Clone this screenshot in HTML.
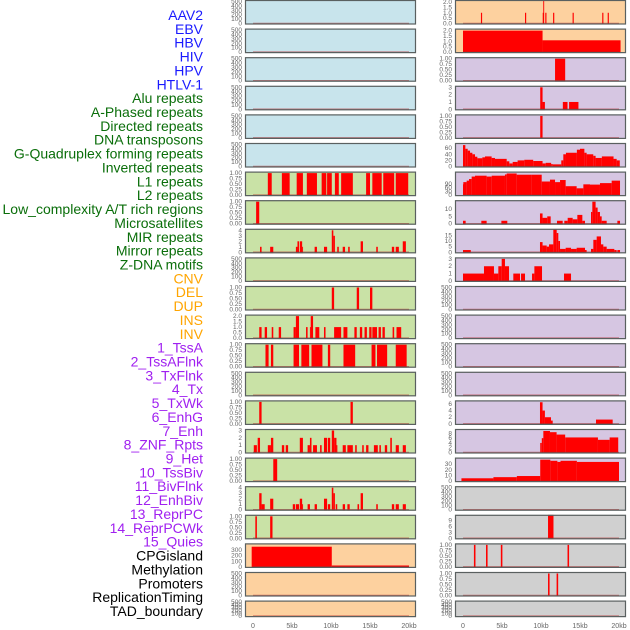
<!DOCTYPE html>
<html><head><meta charset="utf-8"><style>
html,body{margin:0;padding:0;background:#fff;}
svg{display:block;font-family:"Liberation Sans",sans-serif;}
</style></head><body>
<svg id="chart" width="630" height="630" viewBox="0 0 630 630"></svg>
<script>
// ---- data ----
const trackLabels = ["AAV2","EBV","HBV","HIV","HPV","HTLV-1","Alu repeats","A-Phased repeats","Directed repeats","DNA transposons","G-Quadruplex forming repeats","Inverted repeats","L1 repeats","L2 repeats","Low_complexity A/T rich regions","Microsatellites","MIR repeats","Mirror repeats","Z-DNA motifs","CNV","DEL","DUP","INS","INV","1_TssA","2_TssAFlnk","3_TxFlnk","4_Tx","5_TxWk","6_EnhG","7_Enh","8_ZNF_Rpts","9_Het","10_TssBiv","11_BivFlnk","12_EnhBiv","13_ReprPC","14_ReprPCWk","15_Quies","CPGisland","Methylation","Promoters","ReplicationTiming","TAD_boundary"];
const labelGroups = [6,13,5,15,5];
const groupColors = ["#1a1aff","#0a6e0a","#ffa500","#a020f0","#000000"];
const xTicks = [0,5,10,15,20];
const xTickLabels = ["0","5kb","10kb","15kb","20kb"];
// segments: [startKb, endKb, value]
const leftSegs = [
 [],[],[],[],[],[],
 [[1.9,2.4,1],[3.7,4.7,1],[5.6,6.4,1],[6.9,8.2,1],[8.8,9.4,1],[9.5,10.1,1],[10.5,11.0,1],[11.3,12.8,1],[14.5,15.0,1],[15.3,16.5,1],[16.7,18.1,1],[18.3,19.9,1]],
 [[0.4,0.8,1]],
 [[0.9,1.1,1],[2.2,2.6,1],[5.5,5.7,1],[5.7,5.9,2],[6.0,6.3,2],[6.3,6.4,1],[7.9,8.2,1],[9.1,9.5,1],[10.1,10.3,4],[10.3,10.5,3],[10.8,11.0,1],[11.5,11.8,1],[12.2,12.4,1],[13.8,14.1,2],[15.8,16.0,1],[17.8,18.1,1],[18.3,18.7,1],[19.2,19.6,2]],
 [],
 [[10.1,10.4,1],[13.3,13.6,1],[15.0,15.3,1]],
 [[0.8,1.1,1],[1.5,1.8,1],[2.4,2.6,1],[3.3,3.6,1],[5.2,5.5,1],[5.5,5.9,2],[6.8,7.0,1],[7.3,7.4,1],[7.4,7.7,2],[8.0,8.5,1],[9.1,9.3,1],[10.4,11.3,1],[11.6,12.1,1],[13.0,13.3,1],[13.7,14.0,1],[14.3,14.6,1],[14.9,15.2,1],[15.3,15.9,1],[16.1,16.4,1],[16.6,16.9,1],[17.9,18.1,1],[18.4,19.0,1]],
 [[1.6,2.0,1],[2.3,2.6,1],[5.2,5.9,1],[6.2,7.2,1],[7.5,8.9,1],[9.6,9.9,1],[11.6,13.1,1],[15.2,15.7,1],[15.9,17.2,1],[18.3,19.7,1]],
 [],
 [[0.8,1.1,1],[12.5,12.8,1]],
 [[0.1,0.5,1],[0.6,0.9,2],[1.9,2.3,1],[2.3,2.6,2],[3.7,4.0,1],[4.2,4.5,1],[6.0,6.4,2],[7.0,7.3,1],[7.3,7.5,2],[7.7,8.2,1],[8.6,8.8,1],[9.1,9.5,2],[9.6,9.9,2],[10.1,10.4,3],[10.4,10.7,2],[10.7,10.8,1],[11.5,11.9,1],[12.1,12.8,1],[13.1,13.3,1],[14.0,14.2,1],[14.5,14.8,1],[15.5,16.0,1],[16.2,16.4,1],[16.9,17.2,1],[17.6,17.8,2],[18.3,18.7,1],[19.2,19.6,1]],
 [[2.6,3.1,1]],
 [[0.8,1.1,3],[1.1,1.5,1],[2.2,2.6,2],[5.1,5.4,1],[5.5,5.9,1],[6.0,6.3,2],[6.3,6.4,1],[7.0,7.3,1],[7.9,8.2,1],[9.1,9.5,2],[9.6,9.9,1],[10.1,10.3,4],[10.3,10.5,3],[10.6,10.8,1],[11.5,11.8,1],[12.1,12.4,1],[13.4,13.6,1],[13.8,14.1,3],[15.8,16.0,1],[17.8,18.1,1],[18.3,18.7,1],[19.2,19.6,1]],
 [[0.3,0.5,1],[2.2,2.5,1]],
 [[-0.17,10.1,358],[10.1,20.0,25]],
 [],[]
];
const r5Breaks = [0,0.3,0.6,0.9,1.2,1.54,1.84,2.48,2.82,3.67,4.1,5.6,5.94,6.37,7.0,7.86,9.0,10.2,10.6,11.3,11.5,12.6,12.86,13.2,14.6,15.0,15.56,15.85,16.7,17.0,17.8,19.3,19.7,20.1];
const r5Vals = [70,58,52,45,40,32,27,30,33,28,25,17,10,15,20,22,18,10,12,8,7,20,40,45,55,58,45,40,35,28,33,25,20];
const r6Breaks = [0,0.04,0.47,0.77,1.11,1.54,3.03,3.68,5.38,5.6,6.88,8.8,10.09,11.15,11.8,12.44,13.16,14.57,15.43,16.28,17.56,19.06,20.13];
const r6Vals = [87,105,117,130,150,157,150,157,167,175,165,165,110,125,105,122,72,55,87,85,97,117];
function profileSegs(b, v){ const s=[]; for(let i=0;i<v.length;i++) s.push([b[i],b[i+1],v[i]]); return s; }
const rightSegs = [
 [[2.3,2.45,1],[7.95,8.1,1],[10.22,10.37,1],[10.29,10.35,2.4],[10.55,10.7,1],[11.55,11.7,1],[14.05,14.2,1],[17.85,18.0,1],[18.55,18.7,1]],
 [[0,10.2,2.0],[10.2,20.2,1.1]],
 [[11.8,13.1,1]],
 [[9.9,10.2,3],[10.2,10.5,1],[12.8,13.4,1],[13.6,14.8,1]],
 [[9.9,10.2,1]],
 profileSegs(r5Breaks, r5Vals),
 profileSegs(r6Breaks, r6Vals),
 [[0,0.34,2],[2.35,3.03,2],[4.92,5.68,2],[9.87,10.2,7],[10.2,10.8,4],[10.8,11.24,5],[12.05,12.78,2],[12.99,13.42,2],[13.42,14.06,4],[14.06,14.66,3],[14.66,15.3,6],[15.3,15.64,2],[16.41,16.58,8],[16.58,17.0,15],[17.0,17.26,11],[17.26,17.56,8],[17.56,17.78,5],[17.78,18.42,2],[19.79,20.13,2]],
 [[0,1.0,2],[9.87,10.2,9],[10.2,10.73,6],[10.73,11.03,5],[11.03,11.58,7],[11.58,12.01,20],[12.01,12.22,17],[12.22,12.44,10],[12.44,13.16,3],[13.16,13.85,4],[13.85,14.57,3],[14.57,15.64,4],[15.64,15.85,2],[16.41,16.71,3],[16.71,17.14,11],[17.14,17.69,14],[17.69,17.99,7],[17.99,18.42,5],[18.42,19.4,3],[19.4,19.7,2],[19.79,20.13,2]],
 [[0,2.69,1],[2.69,3.97,2],[3.97,4.53,1],[4.53,4.96,2],[4.96,5.38,3],[5.38,5.9,2],[6.45,7.31,1],[7.44,7.95,1],[8.85,9.15,1],[9.15,10.13,2],[12.95,13.85,1]],
 [],[],[],[],
 [[9.87,10.2,6.5],[10.2,10.5,4],[10.5,11.28,2],[11.28,11.5,1],[17.05,19.19,1.3]],
 [[9.9,10.1,4],[10.1,10.3,6],[10.3,11.15,9],[11.15,12.0,8.5],[12.0,13.1,7.5],[13.1,17.3,6.3],[17.3,18.8,5.3],[18.8,19.9,6.3]],
 [[-0.2,3.9,5],[3.9,6.9,7],[6.9,9.9,9],[9.9,11.2,38],[11.2,12.1,36],[12.1,12.5,34],[12.5,14.6,36],[14.6,20.0,34]],
 [],
 [[10.9,11.6,12]],
 [[1.4,1.6,1],[2.95,3.15,1],[4.85,5.05,1],[13.4,13.6,1]],
 [[10.9,11.1,1],[12.0,12.2,1]],
 []
];
const EMPTY=[0,100,200,300,400,500], BIN=[0,0.25,0.5,0.75,1], HALF=[0,0.5,1,1.5,2];
const leftTicks = [EMPTY,EMPTY,EMPTY,EMPTY,EMPTY,EMPTY,BIN,BIN,[0,1,2,3,4],EMPTY,BIN,HALF,BIN,EMPTY,BIN,[0,1,2,3],BIN,[0,1,2,3,4],BIN,[0,100,200,300],EMPTY,EMPTY];
const leftMax = [500,500,500,500,500,500,1,1,4,500,1,2,1,500,1,3,1,4,1,390,500,500];
const rightTicks = [HALF,HALF,BIN,[0,1,2,3],BIN,[0,20,40,60],[0,30,60,90],[0,5,10],[0,5,10,15],[0,1,2,3],EMPTY,EMPTY,EMPTY,EMPTY,[0,2,4,6],[0,2,4,6,8],[0,10,20,30],EMPTY,[0,3,6,9],BIN,BIN,EMPTY];
const rightMax = [2.05,2.05,1,3,1,72,178,15,19.4,3,500,500,500,500,6.6,9.2,39,500,11.2,1,1,500];
const leftBg = ["b","b","b","b","b","b","g","g","g","g","g","g","g","g","g","g","g","g","g","o","o","o"];
const rightBg = ["o","o","p","p","p","p","p","p","p","p","p","p","p","p","p","p","p","gr","gr","gr","gr","gr"];
const bgColors = {b:"#c8e4ec",g:"#c9e2a6",o:"#fdd19f",p:"#d6c6e2",gr:"#d0d0d0"};

// ---- drawing ----
const NS="http://www.w3.org/2000/svg";
const svg=document.getElementById('chart');
function mk(tag, attrs, parent){ const e=document.createElementNS(NS,tag); for(const k in attrs) e.setAttribute(k,attrs[k]); (parent||svg).appendChild(e); return e; }
const ROWH=28.6;
function xScale(col, kb){ return (col===0?253:463) + kb*7.8; }
function fmt(ticks, v){ const mx=Math.max(...ticks); if(mx<=1) return v.toFixed(2); if(mx<=2 && ticks.includes(0.5)) return v.toFixed(1); return String(v); }

// labels
let li=0;
labelGroups.forEach((n,g)=>{ for(let k=0;k<n;k++){ const t=mk('text',{x:203,y:15+li*13.86,'text-anchor':'end','dominant-baseline':'central','font-size':'14',fill:groupColors[g]});
 
 
 t.textContent=trackLabels[li]; li++; } });

function drawPanel(col, i, segs, ticks, vmax, bg){
  const x0 = col===0?245:455, w=171;
  const top = i*ROWH, h = (i===21)?16.5:24.5;
  const g=mk('g',{});
  
  
  const cid='clip'+col+'_'+i;
  const cp=mk('clipPath',{id:cid},g); mk('rect',{x:x0,y:top,width:w,height:h},cp);
  const bgR=mk('rect',{x:x0,y:top,width:w,height:h,fill:bgColors[bg]},g);
  
  
  const yS = v => top + h - 1 - (v/vmax)*(h-2.5);
  const bars=mk('g',{'clip-path':'url(#'+cid+')'},g);
  segs.forEach(s=>{
    const xa=xScale(col,s[0]), xb=xScale(col,s[1]);
    const r=mk('rect',{x:xa,y:yS(s[2]),width:Math.max(0.9,xb-xa),height:Math.max(0,top+h-yS(s[2])),fill:'#ff0000'},bars);
    
    
  });
  const bl=mk('line',{x1:xScale(col,0),x2:xScale(col,20),y1:top+h-1,y2:top+h-1,stroke:'#b02020','stroke-width':1.5,'stroke-opacity':0.55},g);
  
  
  const br=mk('rect',{x:x0+0.5,y:top+0.5,width:w-1,height:h-1,fill:'none',stroke:'#5a6060','stroke-width':1.2},g);
  
  
  ticks.forEach(v=>{
    const t=mk('text',{x:x0-3,y:yS(v)+2,'text-anchor':'end','font-size':'6.5',fill:'#666'},g);
    
    
    t.textContent=fmt(ticks,v);
  });
}
for(let i=0;i<22;i++){
  drawPanel(0,i,leftSegs[i],leftTicks[i],leftMax[i],leftBg[i]);
  drawPanel(1,i,rightSegs[i],rightTicks[i],rightMax[i],rightBg[i]);
}
[0,1].forEach(col=>{ xTicks.forEach((kb,j)=>{
  const t=mk('text',{x:xScale(col,kb),y:628,'text-anchor':'middle','font-size':'7',fill:'#666'});
  
  
  t.textContent=xTickLabels[j];
}); });
</script>
</body></html>
